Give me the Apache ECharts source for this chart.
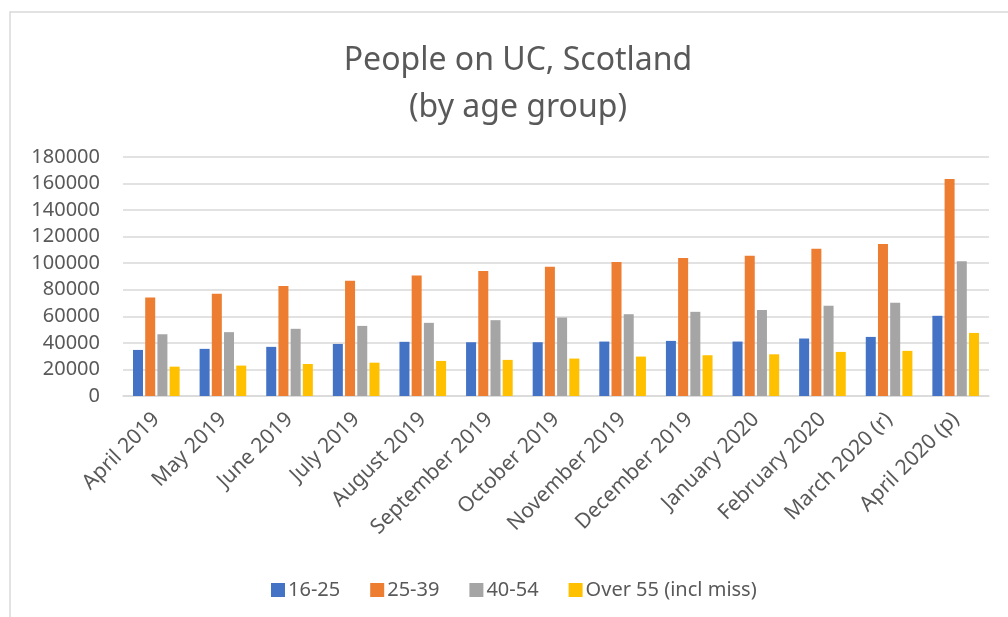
<!DOCTYPE html>
<html>
<head>
<meta charset="utf-8">
<script src="https://cdn.jsdelivr.net/npm/echarts@6/dist/echarts.min.js"></script>
<style>
  html, body { margin: 0; padding: 0; background: #fff; }
  #chart { width: 1008px; height: 617px; }
</style>
</head>
<body>
<div id="chart"></div>
<script>
const months = [
  'April 2019', 'May 2019', 'June 2019', 'July 2019', 'August 2019',
  'September 2019', 'October 2019', 'November 2019', 'December 2019',
  'January 2020', 'February 2020', 'March 2020 (r)', 'April 2020 (p)'
]
const age16to25 = [34700, 35500, 37000, 39200, 40800, 40500, 40500, 41000, 41500, 41000, 43300, 44500, 60400]
const age25to39 = [74200, 77000, 82800, 86800, 90800, 94100, 97400, 100900, 103900, 105700, 110900, 114500, 163500]
const age40to54 = [46500, 48100, 50600, 52800, 55100, 57100, 59100, 61600, 63400, 64700, 67900, 70200, 101400]
const over55 = [22100, 22900, 24100, 25100, 26400, 27200, 28200, 29700, 30700, 31400, 33200, 34000, 47500]
const seriesNames = ['16-25', '25-39', '40-54', 'Over 55 (incl miss)']
const colors = ['#4472C4', '#ED7D31', '#A5A5A5', '#FFC000']

const font = 'Noto Sans'
const textColor = '#595959'

const chart = echarts.init(document.getElementById('chart'))

const makeBar = (name, data, color) => ({
  name: name,
  type: 'bar',
  barGap: '22%',
  barCategoryGap: '30%',
  itemStyle: { color: color },
  data: data
})

const option = {
  backgroundColor: '#fff',
  animation: false,
  color: colors,
  textStyle: { fontFamily: font },
  graphic: [
    {
      type: 'rect',
      shape: { x: 10, y: 12, width: 1100, height: 700 },
      style: { fill: 'none', stroke: '#d9d9d9', lineWidth: 1.5 },
      silent: true
    }
  ],
  title: {
    text: 'People on UC, Scotland\n(by age group)',
    left: 513,
    top: 32,
    textAlign: 'center',
    textStyle: {
      fontFamily: font,
      fontSize: 32,
      fontWeight: 'normal',
      color: textColor,
      lineHeight: 47
    }
  },
  legend: {
    data: seriesNames,
    left: 266,
    top: 575,
    icon: 'rect',
    itemWidth: 14,
    itemHeight: 14,
    itemGap: 30,
    textStyle: { fontFamily: font, fontSize: 20, color: textColor, padding: [0, 0, 0, -2] }
  },
  grid: {
    left: 123,
    right: 19,
    top: 157,
    bottom: 221
  },
  xAxis: {
    type: 'category',
    data: months,
    axisLine: { lineStyle: { color: '#d9d9d9', width: 1.5 } },
    axisTick: { show: false },
    axisLabel: {
      rotate: 45,
      interval: 0,
      margin: 20,
      fontFamily: font,
      fontSize: 21,
      color: textColor
    }
  },
  yAxis: {
    type: 'value',
    min: 0,
    max: 180000,
    interval: 20000,
    axisLine: { show: false },
    axisTick: { show: false },
    splitLine: { lineStyle: { color: '#d9d9d9', width: 1.5 } },
    axisLabel: {
      margin: 23,
      fontFamily: font,
      fontSize: 20,
      color: textColor,
      formatter: (v) => String(v)
    }
  },
  series: [
    makeBar(seriesNames[0], age16to25, colors[0]),
    makeBar(seriesNames[1], age25to39, colors[1]),
    makeBar(seriesNames[2], age40to54, colors[2]),
    makeBar(seriesNames[3], over55, colors[3])
  ]
}

option && chart.setOption(option)
</script>
</body>
</html>
